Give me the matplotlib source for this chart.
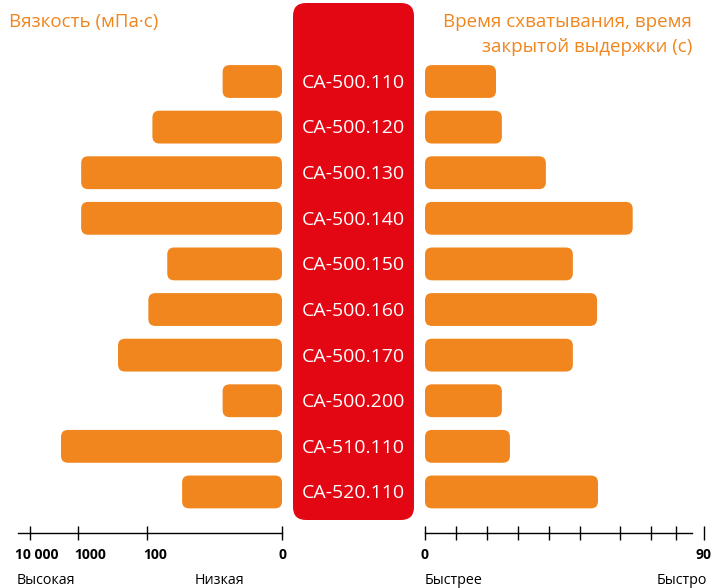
import numpy as np
import matplotlib
matplotlib.use("Agg")
import matplotlib.pyplot as plt
from matplotlib.patches import FancyBboxPatch
from matplotlib.transforms import IdentityTransform, ScaledTranslation, blended_transform_factory

# ---------------  Data  ------------

products = ['CA-500.110', 'CA-500.120', 'CA-500.130', 'CA-500.140', 'CA-500.150',
            'CA-500.160', 'CA-500.170', 'CA-500.200', 'CA-510.110', 'CA-520.110']
viscosity = [44, 96, 900, 900, 85, 99, 263, 44, 2260, 74]          # mPa*s
set_time = [22.9, 24.8, 39.0, 67.0, 47.7, 55.5, 47.7, 24.8, 27.4, 55.8]  # s

visc_ticks = [10000, 1000, 100, 0]
visc_tick_labels = ['10 000', '1000', '100', '0']
time_ticks = [0, 10, 20, 30, 40, 50, 63, 73, 81, 90]
time_tick_labels = ['0', '', '', '', '', '', '', '', '', '90']

ORANGE = '#F0861D'
RED = '#E30613'
plt.rcParams['font.family'] = ['Open Sans', 'DejaVu Sans']


# schematic viscosity axis: linear up to 100, then compressed log steps
def visc_forward(v):
    v = np.asarray(v, dtype=float)
    lv = np.log10(np.maximum(v, 1e-9))
    return np.where(v <= 100, v * 1.35,
                    np.where(v <= 1000, 135 + (lv - 2) * 69, 204 + (lv - 3) * 48))


def visc_inverse(p):
    p = np.asarray(p, dtype=float)
    return np.where(p <= 135, p / 1.35,
                    np.where(p <= 204, 10 ** (2 + (p - 135) / 69), 10 ** (3 + (p - 204) / 48)))


W, H = 711, 588
fig = plt.figure(figsize=(W / 100, H / 100), dpi=100)

# axes placed in pixel layout
y_bot, y_top = 533, 0
ax_l = fig.add_axes([18 / W, (H - y_bot) / H, (282 - 18) / W, (y_bot - y_top) / H])
ax_r = fig.add_axes([425 / W, (H - y_bot) / H, (704 - 425) / W, (y_bot - y_top) / H])

ypos = np.arange(len(products))
for ax in (ax_l, ax_r):
    ax.set_ylim(9.90, -1.787)
    ax.set_facecolor('none')
    for s in ('left', 'right', 'top'):
        ax.spines[s].set_visible(False)
    ax.spines['bottom'].set_linewidth(1.0)
    ax.set_yticks([])
    ax.tick_params(axis='x', direction='inout', length=10, width=1.0, pad=6,
                   labelsize=10, colors='black')

ax_l.set_xscale('function', functions=(visc_forward, visc_inverse))
ax_l.set_xlim(float(visc_inverse(264)), 0)
bars_l = ax_l.barh(ypos, viscosity, height=0.72, color=ORANGE)
ax_l.set_xticks(visc_ticks)
ax_l.set_xticklabels(visc_tick_labels, fontweight='bold')
ax_l.xaxis.set_minor_locator(matplotlib.ticker.NullLocator())
for lab, dx in zip(ax_l.get_xticklabels(), [-15, -4, -4, -4]):
    lab.set_ha('left')
    lab.set_transform(lab.get_transform() + ScaledTranslation(dx / 100, 0, fig.dpi_scale_trans))

ax_r.set_xlim(0, 90)
bars_r = ax_r.barh(ypos, set_time, height=0.72, color=ORANGE)
ax_r.set_xticks(time_ticks)
ax_r.set_xticklabels(time_tick_labels, fontweight='bold')
ax_r.spines['bottom'].set_bounds(0, 86)

# rounded bars: swap each rectangle for a rounded box at the same pixel place
fig.canvas.draw()
for b in list(bars_l) + list(bars_r):
    bb = b.get_window_extent()
    b.set_visible(False)
    fig.add_artist(FancyBboxPatch((bb.x0, bb.y0), bb.width, bb.height,
                                  boxstyle='round,pad=0,rounding_size=7',
                                  transform=IdentityTransform(),
                                  facecolor=ORANGE, edgecolor='none', zorder=1))

# red central column
fig.add_artist(FancyBboxPatch((293, H - 520), 121, 517,
                              boxstyle='round,pad=0,rounding_size=13',
                              transform=IdentityTransform(),
                              facecolor=RED, edgecolor='none', zorder=1))
trans = blended_transform_factory(fig.transFigure, ax_l.transData)
for y, name in zip(ypos, products):
    fig.text(353.5 / W, y + 0.03, name, transform=trans, ha='center', va='center',
             color='white', fontsize=14, zorder=3)

# titles
fig.text(9 / W, 1 - 22 / H, 'Вязкость (мПа·с)', color=ORANGE, fontsize=13.5,
         ha='left', va='center')
fig.text(692 / W, 1 - 22 / H, 'Время схватывания, время', color=ORANGE, fontsize=13.5,
         ha='right', va='center')
fig.text(692 / W, 1 - 47 / H, 'закрытой выдержки (с)', color=ORANGE, fontsize=13.5,
         ha='right', va='center')

# bottom captions
fig.text(17 / W, 1 - 580 / H, 'Высокая', fontsize=10.3, ha='left', va='center')
fig.text(195 / W, 1 - 580 / H, 'Низкая', fontsize=10.3, ha='left', va='center')
fig.text(425 / W, 1 - 580 / H, 'Быстрее', fontsize=10.3, ha='left', va='center')
fig.text(707 / W, 1 - 580 / H, 'Быстро', fontsize=10.3, ha='right', va='center')

fig.savefig('out.png', dpi=100)
